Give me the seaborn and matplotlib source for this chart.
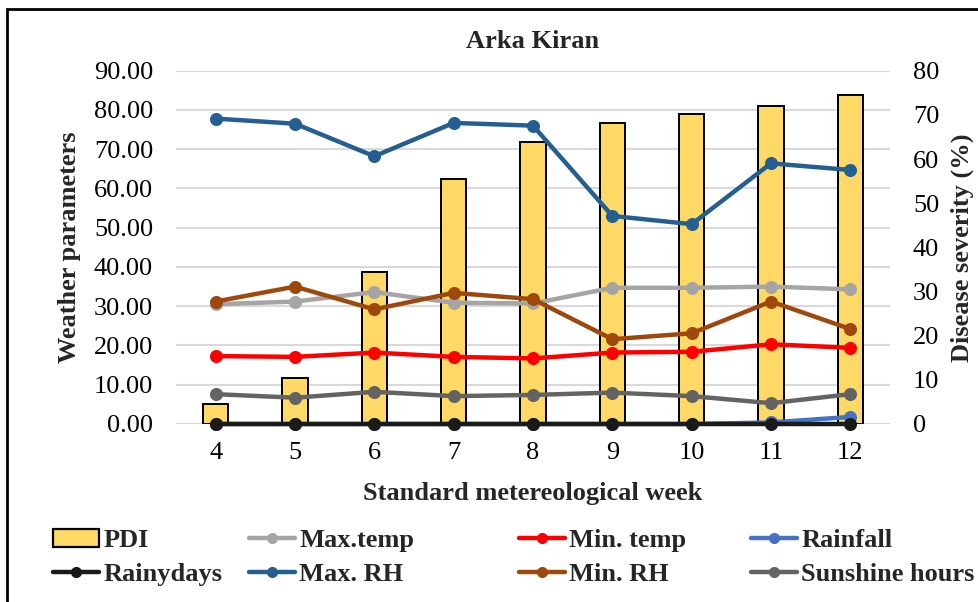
import numpy as np
import pandas as pd
import matplotlib
matplotlib.use("Agg")
import matplotlib.pyplot as plt
import seaborn as sns
from matplotlib.lines import Line2D
from matplotlib.patches import Patch, Rectangle
from matplotlib.ticker import FormatStrFormatter, MultipleLocator

# ---- data ----
weeks = ["4", "5", "6", "7", "8", "9", "10", "11", "12"]
pdi = [4.5, 10.5, 34.5, 55.4, 63.9, 68.1, 70.1, 72.0, 74.5]
max_temp = [30.5, 31.2, 33.6, 30.9, 30.7, 34.7, 34.7, 35.0, 34.3]
min_temp = [17.3, 17.1, 18.2, 17.1, 16.7, 18.2, 18.4, 20.3, 19.4]
rainfall = [0.0, 0.0, 0.0, 0.0, 0.0, 0.0, 0.0, 0.4, 1.8]
rainydays = [0, 0, 0, 0, 0, 0, 0, 0, 0]
max_rh = [77.8, 76.5, 68.2, 76.7, 76.0, 53.0, 50.9, 66.4, 64.7]
min_rh = [31.2, 35.0, 29.2, 33.4, 31.8, 21.6, 23.1, 31.2, 24.2]
sunshine = [7.6, 6.7, 8.2, 7.1, 7.4, 8.0, 7.1, 5.3, 7.6]

series_names = ["Max.temp", "Min. temp", "Rainfall", "Rainydays",
                "Max. RH", "Min. RH", "Sunshine hours"]
series_vals = [max_temp, min_temp, rainfall, rainydays, max_rh, min_rh, sunshine]
series_colors = ["#A5A5A5", "#FF0000", "#4472C4", "#1A1A1A",
                 "#255E91", "#9E480E", "#636363"]
bar_color = "#FFD966"

title = "Arka Kiran"
xlabel = "Standard metereological week"
ylabel_left = "Weather parameters"
ylabel_right = "Disease severity (%)"

sns.set_style("white")
plt.rcParams["font.family"] = ["Liberation Serif", "DejaVu Serif"]

FS = 19

fig = plt.figure(figsize=(9.79, 6.02), dpi=100)
pos = [176 / 979, 1 - 424 / 602, (890 - 176) / 979, (424 - 70.7) / 602]
ax = fig.add_axes(pos)          # grid + left ticks
ax2 = ax.twinx()                # bars (right axis)
ax3 = ax.twinx()                # lines (left scale)

ax.set_zorder(1)
ax2.set_zorder(2)
ax3.set_zorder(3)
for a in (ax2, ax3):
    a.patch.set_visible(False)

# bars
df_bar = pd.DataFrame({"week": weeks, "PDI": pdi})
sns.barplot(data=df_bar, x="week", y="PDI", ax=ax2, color=bar_color,
            edgecolor="black", linewidth=1.4, width=0.32, saturation=1)

# lines
long = pd.DataFrame({
    "week": weeks * len(series_names),
    "value": sum(series_vals, []),
    "param": sum([[n] * len(weeks) for n in series_names], []),
})
sns.pointplot(data=long, x="week", y="value", hue="param",
              hue_order=series_names, palette=series_colors,
              markers="o", linestyles="-", errorbar=None, dodge=False,
              ax=ax3, legend=False, markersize=7, linewidth=3.2)
for art in ax3.lines + ax3.collections:
    art.set_clip_on(False)

for a in (ax, ax2, ax3):
    a.set_xlim(-0.5, len(weeks) - 0.5)
    for s in a.spines.values():
        s.set_visible(False)

ax.set_ylim(0, 90)
ax3.set_ylim(0, 90)
ax2.set_ylim(0, 80)

ax.yaxis.set_major_locator(MultipleLocator(10))
ax.yaxis.set_major_formatter(FormatStrFormatter("%.2f"))
ax.grid(axis="y", color="#D9D9D9", linewidth=1.5)
ax.grid(axis="x", visible=False)
ax2.yaxis.set_major_locator(MultipleLocator(10))
ax2.grid(False)
ax3.grid(False)
ax3.set_yticks([])
ax3.set_ylabel("")
ax3.set_xlabel("")
ax2.set_xlabel("")

ax.set_xticks(range(len(weeks)))
ax.set_xticklabels(weeks)
ax.tick_params(axis="both", length=0, labelsize=FS, colors="black")
ax.tick_params(axis="y", pad=16.5)
ax.tick_params(axis="x", pad=13)
ax2.tick_params(axis="y", length=0, labelsize=FS, pad=16.5, colors="black")
ax2.tick_params(axis="x", length=0, labelbottom=False)
ax3.tick_params(axis="x", length=0, labelbottom=False)

ax.set_ylabel(ylabel_left, fontsize=FS, fontweight="bold", labelpad=9)
ax2.set_ylabel(ylabel_right, fontsize=FS, fontweight="bold", labelpad=8)
ax.set_xlabel(xlabel, fontsize=FS, fontweight="bold", labelpad=13)
ax.set_title(title, fontsize=FS, fontweight="bold", pad=16)

# legend, four columns placed like the reference
handles = {"PDI": Patch(facecolor=bar_color, edgecolor="black", linewidth=1.6)}
for n, c in zip(series_names, series_colors):
    handles[n] = Line2D([], [], color=c, lw=3.2, marker="o", markersize=7)
columns = [["PDI", "Rainydays"], ["Max.temp", "Max. RH"],
           ["Min. temp", "Min. RH"], ["Rainfall", "Sunshine hours"]]
col_x = [53, 249, 519, 751]
for labs, x0 in zip(columns, col_x):
    lg = fig.legend([handles[k] for k in labs], labs, ncol=1,
                    loc="upper left", bbox_to_anchor=(x0 / 979, 1 - 529 / 602),
                    frameon=False, prop={"weight": "bold", "size": FS},
                    handlelength=1.75, handleheight=0.7, handletextpad=0.15,
                    labelspacing=0.38, borderaxespad=0, borderpad=0)

# figure border
fig.add_artist(Rectangle((7 / 979, -0.2), 1.5, 1.2 - 9 / 602,
                         transform=fig.transFigure, fill=False,
                         edgecolor="black", linewidth=2))

fig.savefig("out.png", dpi=100)
